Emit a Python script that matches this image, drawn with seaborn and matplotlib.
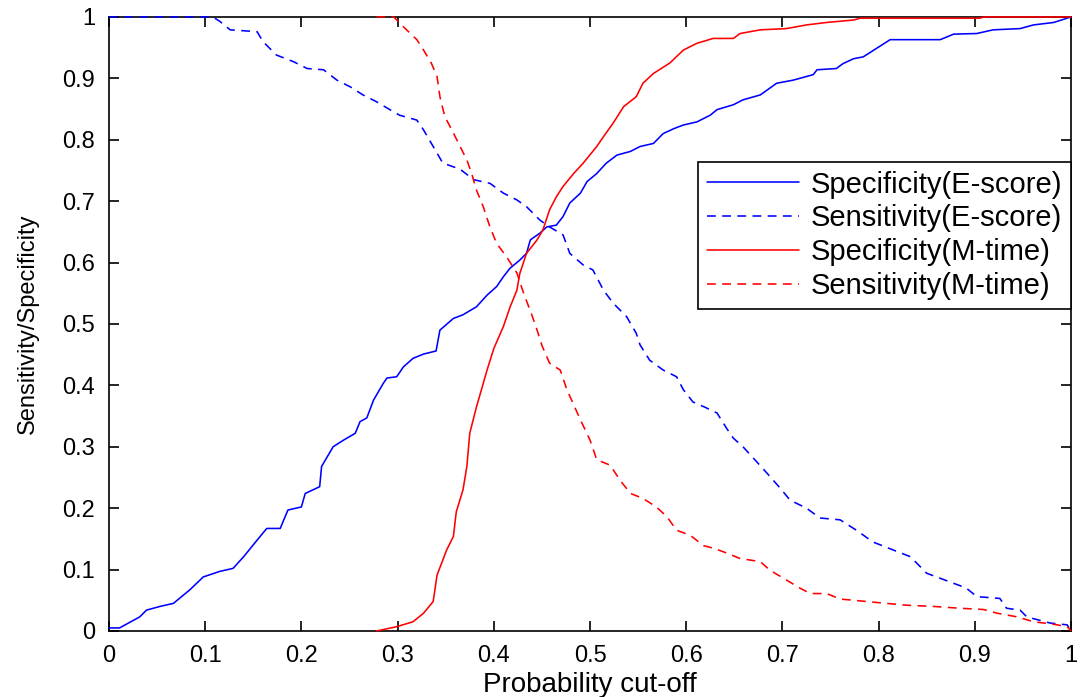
import matplotlib
matplotlib.use("Agg")
import matplotlib.pyplot as plt
import seaborn as sns
import pandas as pd

# Specificity (E-score) - curva azul contínua
x_spec_e = [0, 0.011, 0.032, 0.039, 0.053, 0.067, 0.084, 0.098, 0.115, 0.129,
            0.14, 0.154, 0.164, 0.178, 0.186, 0.2, 0.204, 0.219, 0.221, 0.233,
            0.244, 0.256, 0.261, 0.268, 0.275, 0.285, 0.289, 0.299, 0.306, 0.316,
            0.327, 0.34, 0.344, 0.358, 0.368, 0.382, 0.393, 0.403, 0.41, 0.417,
            0.427, 0.434, 0.438, 0.448, 0.455, 0.465, 0.472, 0.479, 0.49, 0.497,
            0.507, 0.517, 0.528, 0.542, 0.552, 0.566, 0.576, 0.587, 0.597, 0.611,
            0.625, 0.632, 0.649, 0.659, 0.677, 0.694, 0.711, 0.732, 0.736, 0.756,
            0.763, 0.774, 0.784, 0.798, 0.812, 0.864, 0.878, 0.902, 0.919, 0.947,
            0.961, 0.982, 1.0]
y_spec_e = [0.005, 0.005, 0.023, 0.034, 0.04, 0.045, 0.067, 0.088, 0.097, 0.102,
            0.121, 0.148, 0.167, 0.167, 0.197, 0.202, 0.224, 0.235, 0.268, 0.3,
            0.311, 0.322, 0.341, 0.347, 0.376, 0.403, 0.412, 0.414, 0.43, 0.444,
            0.451, 0.456, 0.49, 0.509, 0.515, 0.528, 0.547, 0.561, 0.577, 0.591,
            0.604, 0.615, 0.637, 0.648, 0.658, 0.661, 0.675, 0.697, 0.713, 0.732,
            0.745, 0.762, 0.775, 0.781, 0.789, 0.794, 0.81, 0.818, 0.824, 0.829,
            0.84, 0.849, 0.857, 0.865, 0.873, 0.892, 0.897, 0.906, 0.914, 0.916,
            0.924, 0.932, 0.935, 0.949, 0.963, 0.963, 0.972, 0.973, 0.979, 0.981,
            0.987, 0.991, 1.0]

# Sensitivity (E-score) - curva azul tracejada
x_sens_e = [0, 0.108, 0.115, 0.126, 0.154, 0.16, 0.174, 0.192, 0.206, 0.223,
            0.237, 0.251, 0.264, 0.278, 0.292, 0.302, 0.32, 0.327, 0.337, 0.347,
            0.365, 0.379, 0.396, 0.41, 0.424, 0.434, 0.448, 0.458, 0.472, 0.479,
            0.493, 0.503, 0.514, 0.524, 0.538, 0.548, 0.552, 0.562, 0.576, 0.59,
            0.597, 0.607, 0.62, 0.632, 0.642, 0.649, 0.659, 0.673, 0.684, 0.698,
            0.708, 0.725, 0.739, 0.76, 0.777, 0.794, 0.815, 0.833, 0.85, 0.874,
            0.891, 0.902, 0.926, 0.933, 0.947, 0.954, 0.978, 0.996, 1.0]
y_sens_e = [1.0, 1.0, 0.993, 0.979, 0.976, 0.96, 0.938, 0.927, 0.916, 0.914,
            0.897, 0.886, 0.873, 0.862, 0.849, 0.84, 0.832, 0.816, 0.789, 0.762,
            0.752, 0.735, 0.729, 0.713, 0.702, 0.691, 0.669, 0.658, 0.645, 0.615,
            0.596, 0.588, 0.555, 0.534, 0.512, 0.485, 0.466, 0.441, 0.425, 0.414,
            0.393, 0.373, 0.364, 0.355, 0.33, 0.314, 0.3, 0.276, 0.257, 0.232,
            0.213, 0.2, 0.184, 0.181, 0.164, 0.145, 0.132, 0.121, 0.094, 0.08,
            0.07, 0.056, 0.053, 0.037, 0.034, 0.023, 0.013, 0.01, 0.0]

# Specificity (M-time) - curva vermelha contínua
x_spec_m = [0.278, 0.299, 0.316, 0.327, 0.337, 0.341, 0.351, 0.358, 0.361, 0.368,
            0.372, 0.375, 0.382, 0.389, 0.393, 0.4, 0.41, 0.417, 0.424, 0.427,
            0.434, 0.445, 0.451, 0.458, 0.465, 0.472, 0.483, 0.493, 0.507, 0.514,
            0.524, 0.535, 0.548, 0.555, 0.566, 0.583, 0.597, 0.611, 0.628, 0.649,
            0.656, 0.677, 0.704, 0.725, 0.746, 0.774, 0.781, 0.905, 0.91, 1.0]
y_spec_m = [0.0, 0.007, 0.015, 0.029, 0.048, 0.091, 0.132, 0.154, 0.194, 0.23,
            0.268, 0.322, 0.365, 0.403, 0.425, 0.46, 0.496, 0.528, 0.555, 0.582,
            0.615, 0.637, 0.653, 0.686, 0.707, 0.724, 0.745, 0.762, 0.789, 0.805,
            0.827, 0.854, 0.87, 0.892, 0.908, 0.925, 0.946, 0.957, 0.965, 0.965,
            0.973, 0.979, 0.981, 0.987, 0.991, 0.995, 0.998, 0.998, 1.0, 1.0]

# Sensitivity (M-time) - curva vermelha tracejada
x_sens_m = [0.278, 0.296, 0.306, 0.32, 0.327, 0.335, 0.341, 0.344, 0.349, 0.358,
            0.365, 0.372, 0.377, 0.382, 0.389, 0.396, 0.403, 0.413, 0.424, 0.431,
            0.439, 0.445, 0.45, 0.458, 0.469, 0.476, 0.49, 0.5, 0.507, 0.521,
            0.531, 0.542, 0.555, 0.569, 0.58, 0.59, 0.604, 0.618, 0.628, 0.642,
            0.656, 0.677, 0.687, 0.701, 0.718, 0.729, 0.746, 0.76, 0.781, 0.801,
            0.829, 0.857, 0.885, 0.909, 0.923, 0.944, 0.961, 0.982, 0.996, 1.0]
y_sens_m = [1.0, 1.0, 0.984, 0.963, 0.946, 0.925, 0.903, 0.87, 0.838, 0.811,
            0.789, 0.767, 0.745, 0.718, 0.691, 0.658, 0.631, 0.61, 0.583, 0.55,
            0.517, 0.49, 0.465, 0.436, 0.425, 0.393, 0.344, 0.311, 0.279, 0.27,
            0.246, 0.224, 0.216, 0.202, 0.186, 0.164, 0.156, 0.139, 0.135, 0.127,
            0.118, 0.113, 0.099, 0.086, 0.07, 0.061, 0.061, 0.052, 0.049, 0.046,
            0.042, 0.04, 0.037, 0.035, 0.029, 0.023, 0.015, 0.011, 0.007, 0.0]

nomes = ['Specificity(E-score)', 'Sensitivity(E-score)',
         'Specificity(M-time)', 'Sensitivity(M-time)']
ticks = [0, 0.1, 0.2, 0.3, 0.4, 0.5, 0.6, 0.7, 0.8, 0.9, 1]
tick_labels = ['0', '0.1', '0.2', '0.3', '0.4', '0.5', '0.6', '0.7', '0.8', '0.9', '1']

# Monta um DataFrame longo com as quatro curvas
partes = []
for nome, xs, ys in zip(nomes, [x_spec_e, x_sens_e, x_spec_m, x_sens_m],
                        [y_spec_e, y_sens_e, y_spec_m, y_sens_m]):
    partes.append(pd.DataFrame({'cutoff': xs, 'valor': ys, 'serie': nome}))
df = pd.concat(partes, ignore_index=True)

cores = {nomes[0]: '#0000ff', nomes[1]: '#0000ff', nomes[2]: '#ff0000', nomes[3]: '#ff0000'}
tracos = {nomes[0]: '', nomes[1]: (5.5, 4), nomes[2]: '', nomes[3]: (5.5, 4)}

sns.set_style('ticks')
plt.rcParams['font.family'] = ['Liberation Sans', 'DejaVu Sans']
plt.rcParams['text.color'] = 'black'

fig = plt.figure(figsize=(10.81, 6.97), dpi=100)
ax = fig.add_axes([0.1008, 0.0947, 0.89, 0.881])

sns.lineplot(data=df, x='cutoff', y='valor', hue='serie', style='serie',
             hue_order=nomes, style_order=nomes, palette=cores, dashes=tracos,
             estimator=None, sort=False, linewidth=1.15, ax=ax)
# linhas por cima da moldura, como no MATLAB
for linha in ax.lines:
    linha.set_zorder(3)
    linha.set_clip_on(False)

# Eixos no estilo MATLAB
ax.set_xlim(0, 1)
ax.set_ylim(0, 1)
ax.set_xticks(ticks, tick_labels)
ax.set_yticks(ticks, tick_labels)
ax.tick_params(direction='in', top=True, right=True, length=7, width=1.2,
               labelsize=17, pad=10, color='black', labelcolor='black')
for lado in ax.spines.values():
    lado.set_color('black')
    lado.set_linewidth(1.2)
ax.set_xlabel('Probability cut-off', fontsize=20, color='black', labelpad=4)
ax.set_ylabel('Sensitivity/Specificity', fontsize=17, color='black', labelpad=17)

# Legenda com caixa preta
antiga = ax.get_legend()
handles = antiga.legend_handles
labels = [t.get_text() for t in antiga.get_texts()]
antiga.remove()
leg = ax.legend(handles, labels, loc='upper right', bbox_to_anchor=(1.0, 0.764),
                borderaxespad=0, fontsize=21, handlelength=3.15, handletextpad=0.42,
                labelspacing=0.2, borderpad=0.3, frameon=True, fancybox=False,
                framealpha=1, edgecolor='black')
leg.get_frame().set_linewidth(1.2)
leg.set_zorder(5)

plt.savefig('out.png', dpi=100)
